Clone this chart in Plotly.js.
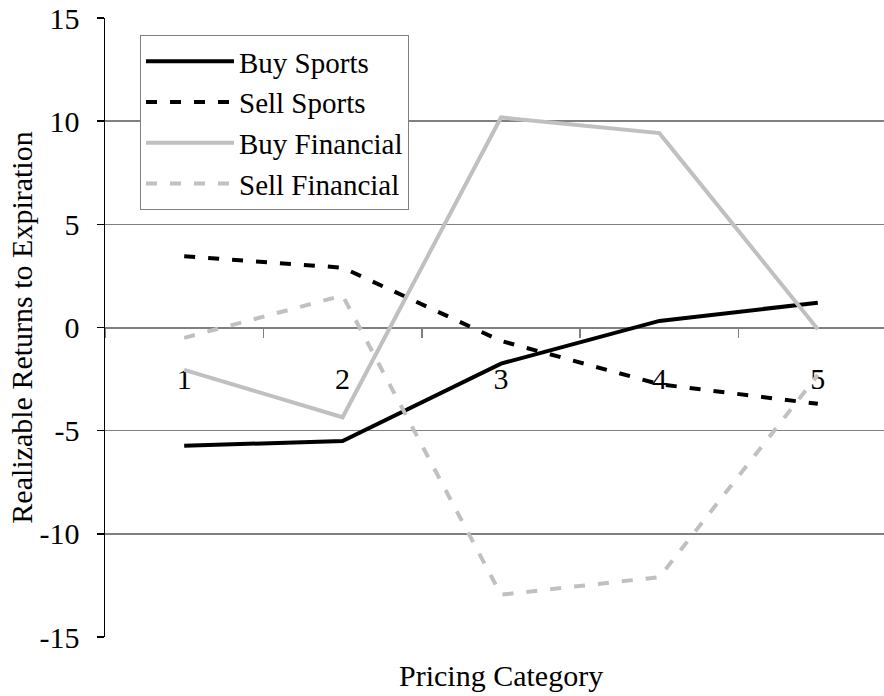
<!DOCTYPE html>
<html>
<head>
<meta charset="utf-8">
<script src="https://cdn.plot.ly/plotly-3.0.1.min.js"></script>
<style>
  html, body { margin: 0; padding: 0; overflow: hidden; background: #fff; }
  #chart { width: 920px; height: 696px; }
</style>
</head>
<body>
<div id="chart"></div>
<script>
// Data
const categories = ['1', '2', '3', '4', '5'];
const buySports = [-5.73, -5.5, -1.75, 0.32, 1.2];
const sellSports = [3.45, 2.9, -0.65, -2.75, -3.7];
const buyFinancial = [-2.05, -4.35, 10.18, 9.42, -0.08];
const sellFinancial = [-0.5, 1.55, -12.95, -12.1, -2.3];
const seriesNames = ['Buy Sports', 'Sell Sports', 'Buy Financial', 'Sell Financial'];
const yTicks = [-15, -10, -5, 0, 5, 10, 15];

const FONT = 'Liberation Serif, Times New Roman, serif';
const DASH = '11px,13px';

const traces = [
  { x: categories, y: buySports, name: seriesNames[0], mode: 'lines',
    line: { color: '#000000', width: 4 } },
  { x: categories, y: sellSports, name: seriesNames[1], mode: 'lines',
    line: { color: '#000000', width: 4, dash: DASH } },
  { x: categories, y: buyFinancial, name: seriesNames[2], mode: 'lines',
    line: { color: '#c0c0c0', width: 4 } },
  { x: categories, y: sellFinancial, name: seriesNames[3], mode: 'lines',
    line: { color: '#c0c0c0', width: 4, dash: DASH } }
];

const layout = {
  width: 920,
  height: 696,
  margin: { l: 105, r: 22.5, t: 18, b: 59 },
  paper_bgcolor: '#ffffff',
  plot_bgcolor: '#ffffff',
  font: { family: FONT, size: 30, color: '#000000' },
  showlegend: true,
  legend: {
    x: 0.0442, y: 0.9725, xanchor: 'left', yanchor: 'top',
    bgcolor: '#ffffff', bordercolor: '#808080', borderwidth: 1,
    font: { family: FONT, size: 29, color: '#000000' },
    itemwidth: 88,
    tracegroupgap: 0
  },
  xaxis: {
    type: 'category',
    categoryorder: 'array',
    categoryarray: categories,
    range: [-0.5, 4.5],
    anchor: 'free',
    position: 0.5,
    showline: true,
    linecolor: '#808080',
    linewidth: 1.5,
    showgrid: false,
    zeroline: false,
    tickson: 'boundaries',
    ticks: 'outside',
    ticklen: 9,
    tickwidth: 1.5,
    tickcolor: '#808080',
    ticklabelstandoff: 24,
    tickfont: { family: FONT, size: 30, color: '#000000' },
    layer: 'below traces',
    fixedrange: true
  },
  yaxis: {
    range: [-15, 15],
    tickmode: 'array',
    tickvals: yTicks,
    ticktext: yTicks.map(String),
    showline: true,
    linecolor: '#000000',
    linewidth: 1.5,
    showgrid: true,
    gridcolor: '#808080',
    gridwidth: 1.5,
    zeroline: false,
    ticks: 'outside',
    ticklen: 7,
    tickwidth: 1.5,
    tickcolor: '#000000',
    ticklabelstandoff: 11,
    tickfont: { family: FONT, size: 30, color: '#000000' },
    title: { text: 'Realizable Returns to Expiration', font: { family: FONT, size: 30, color: '#000000' } },
    fixedrange: true
  },
  annotations: [
    { text: 'Pricing Category', xref: 'paper', yref: 'paper',
      x: 0.5, y: -0.063, xanchor: 'center', yanchor: 'middle', showarrow: false,
      font: { family: FONT, size: 30, color: '#000000' } }
  ]
};

Plotly.newPlot('chart', traces, layout, { displayModeBar: false, staticPlot: true });
</script>
</body>
</html>
